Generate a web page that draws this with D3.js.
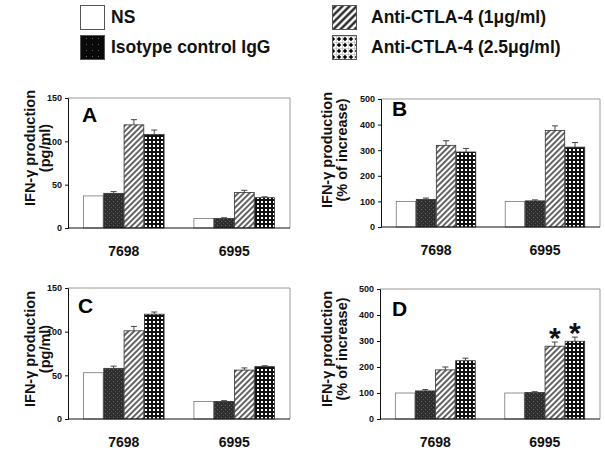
<!DOCTYPE html>
<html>
<head>
<meta charset="utf-8">
<script src="https://cdn.jsdelivr.net/npm/d3@7"></script>
<style>
  body { margin: 0; background: #fff; }
  svg { display: block; font-family: "Liberation Sans", Arial, sans-serif; font-weight: bold; }
</style>
</head>
<body>
<div class="visHolder"></div>
<script>
const w = 605, h = 450;

// data
const groups = ['7698', '6995'];
const series = ['NS', 'Isotype control IgG', 'Anti-CTLA-4 (1\u03bcg/ml)', 'Anti-CTLA-4 (2.5\u03bcg/ml)'];

const valuesA = [[37, 40, 119, 108], [11, 11, 41, 35]];
const errorsA = [[0, 2, 6, 5], [0, 0.8, 2.5, 1]];
const valuesB = [[100, 108, 319, 293], [100, 102, 377, 312]];
const errorsB = [[0, 5, 18, 14], [0, 4, 18, 18]];
const valuesC = [[53, 58, 101, 120], [20, 20, 56, 60]];
const errorsC = [[0, 2.5, 5, 2.5], [0, 1, 2.5, 1]];
const valuesD = [[100, 108, 189, 224], [100, 102, 280, 299]];
const errorsD = [[0, 5, 11, 10], [0, 3, 16, 16]];
const starsD = [[false, false, false, false], [false, false, true, true]];

const ticksPg = [0, 50, 100, 150];
const ticksPct = [0, 100, 200, 300, 400, 500];

const svg = d3.select('.visHolder')
  .append('svg')
  .attr('width', w)
  .attr('height', h);

// fill patterns
const defs = svg.append('defs');

let p = defs.append('pattern').attr('id', 'iso').attr('patternUnits', 'userSpaceOnUse')
  .attr('width', 4).attr('height', 4);
p.append('rect').attr('width', 4).attr('height', 4).attr('fill', '#2e2e2e');
p.append('rect').attr('x', 1).attr('y', 1).attr('width', 1).attr('height', 1).attr('fill', '#6a6a6a');
p.append('rect').attr('x', 3).attr('y', 3).attr('width', 1).attr('height', 1).attr('fill', '#555');

p = defs.append('pattern').attr('id', 'hatch').attr('patternUnits', 'userSpaceOnUse')
  .attr('width', 4).attr('height', 4).attr('patternTransform', 'rotate(45)');
p.append('rect').attr('width', 4).attr('height', 4).attr('fill', '#fff');
p.append('line').attr('x1', 1).attr('x2', 1).attr('y1', 0).attr('y2', 4)
  .attr('stroke', '#111').attr('stroke-width', 1.3);

p = defs.append('pattern').attr('id', 'check').attr('patternUnits', 'userSpaceOnUse')
  .attr('width', 4).attr('height', 4);
p.append('rect').attr('width', 4).attr('height', 4).attr('fill', '#111');
p.append('rect').attr('x', 1).attr('y', 1).attr('width', 2).attr('height', 2).attr('fill', '#fff');

// bigger versions for the legend swatches
p = defs.append('pattern').attr('id', 'isoL').attr('patternUnits', 'userSpaceOnUse')
  .attr('width', 6).attr('height', 6);
p.append('rect').attr('width', 6).attr('height', 6).attr('fill', '#0a0a0a');
p.append('rect').attr('x', 2).attr('y', 2).attr('width', 1).attr('height', 1).attr('fill', '#666');

p = defs.append('pattern').attr('id', 'hatchL').attr('patternUnits', 'userSpaceOnUse')
  .attr('width', 5).attr('height', 5).attr('patternTransform', 'rotate(45)');
p.append('rect').attr('width', 5).attr('height', 5).attr('fill', '#fff');
p.append('line').attr('x1', 1.5).attr('x2', 1.5).attr('y1', 0).attr('y2', 5)
  .attr('stroke', '#111').attr('stroke-width', 2.2);

p = defs.append('pattern').attr('id', 'checkL').attr('patternUnits', 'userSpaceOnUse')
  .attr('width', 6).attr('height', 6).attr('x', 0).attr('y', 0);
p.append('rect').attr('width', 6).attr('height', 6).attr('fill', '#fff');
p.append('path').attr('d', 'M0 0H6M0 0V6').attr('stroke', '#999').attr('stroke-width', 0.8);
p.append('path').attr('d', 'M3 0.8L5.2 3L3 5.2L0.8 3Z').attr('fill', '#000');

const fills = ['#fff', 'url(#iso)', 'url(#hatch)', 'url(#check)'];
const legendFills = ['#fff', 'url(#isoL)', 'url(#hatchL)', 'url(#checkL)'];

// legend
const legendPos = [
  {bx: 80, by: 5, tx: 111},
  {bx: 80, by: 35, tx: 111},
  {bx: 332, by: 5, tx: 371},
  {bx: 332, by: 35, tx: 371}
];
const legend = svg.append('g').attr('class', 'legend');
series.forEach((s, i) => {
  const lp = legendPos[i];
  legend.append('rect')
    .attr('x', lp.bx + 0.5).attr('y', lp.by + 0.5)
    .attr('width', 24).attr('height', 24)
    .attr('fill', legendFills[i])
    .attr('stroke', '#555').attr('stroke-width', 1);
  legend.append('text')
    .attr('x', lp.tx).attr('y', lp.by + 18)
    .attr('font-size', 17.5)
    .attr('fill', '#111')
    .text(s);
});

const panels = [
  {letter: 'A', lx: 82, ly: 122, x0: 68, x1: 290, top: 98, bottom: 228, max: 150, ticks: ticksPg,
   values: valuesA, errors: errorsA, label: ['IFN-\u03b3 production', '(pg/ml)'], yl: 35, ylc: 148},
  {letter: 'B', lx: 392, ly: 116, x0: 381, x1: 600, top: 99, bottom: 227, max: 500, ticks: ticksPct,
   values: valuesB, errors: errorsB, label: ['IFN-\u03b3 production', '(% of increase)'], yl: 332, ylc: 150},
  {letter: 'C', lx: 78, ly: 313, x0: 68, x1: 290, top: 288, bottom: 419, max: 150, ticks: ticksPg,
   values: valuesC, errors: errorsC, label: ['IFN-\u03b3 production', '(pg/ml)'], yl: 35, ylc: 349},
  {letter: 'D', lx: 392, ly: 316, x0: 380, x1: 600, top: 289, bottom: 419, max: 500, ticks: ticksPct,
   values: valuesD, errors: errorsD, label: ['IFN-\u03b3 production', '(% of increase)'], yl: 332, ylc: 349,
   stars: starsD}
];

panels.forEach(pn => {
  const g = svg.append('g').attr('class', 'panel-' + pn.letter);

  const xScale = d3.scaleBand()
    .domain(groups)
    .range([pn.x0, pn.x1])
    .paddingInner(0.27)
    .paddingOuter(0.14);

  const xInner = d3.scaleBand()
    .domain(d3.range(series.length))
    .range([0, xScale.bandwidth()])
    .paddingInner(0.03);

  const yScale = d3.scaleLinear()
    .domain([0, pn.max])
    .range([pn.bottom, pn.top]);

  // frame: top and right in light grey
  g.append('path')
    .attr('d', `M${pn.x0},${pn.top}H${pn.x1}V${pn.bottom}`)
    .attr('fill', 'none')
    .attr('stroke', '#9a9a9a')
    .attr('stroke-width', 1);

  // bars
  pn.values.forEach((vals, gi) => {
    const gx = xScale(groups[gi]);
    vals.forEach((v, si) => {
      const bx = gx + xInner(si);
      const bw = xInner.bandwidth();
      g.append('rect')
        .attr('x', bx)
        .attr('y', yScale(v))
        .attr('width', bw)
        .attr('height', yScale(0) - yScale(v))
        .attr('fill', fills[si])
        .attr('stroke', si === 0 ? '#777' : '#333')
        .attr('stroke-width', 0.8);

      const e = pn.errors[gi][si];
      if (e > 0) {
        const cx = bx + bw / 2;
        g.append('line')
          .attr('x1', cx).attr('x2', cx)
          .attr('y1', yScale(v)).attr('y2', yScale(v + e))
          .attr('stroke', '#444').attr('stroke-width', 1);
        g.append('line')
          .attr('x1', cx - 3).attr('x2', cx + 3)
          .attr('y1', yScale(v + e)).attr('y2', yScale(v + e))
          .attr('stroke', '#444').attr('stroke-width', 1);
      }
      if (pn.stars && pn.stars[gi][si]) {
        g.append('text')
          .attr('x', bx + bw / 2)
          .attr('y', yScale(v + e) + 6)
          .attr('text-anchor', 'middle')
          .attr('font-size', 30)
          .attr('fill', '#111')
          .text('*');
      }
    });
  });

  // axes
  const yAxis = d3.axisLeft(yScale).tickValues(pn.ticks).tickSize(3).tickPadding(3);
  g.append('g')
    .attr('transform', `translate(${pn.x0},0)`)
    .call(yAxis)
    .call(a => a.select('.domain').attr('stroke', '#111'))
    .call(a => a.selectAll('.tick line').attr('stroke', '#111'))
    .call(a => a.selectAll('.tick text')
      .attr('font-size', 9).attr('font-weight', 'bold')
      .attr('font-family', '"Liberation Sans", Arial, sans-serif').attr('fill', '#111'));

  const xAxis = d3.axisBottom(xScale).tickSize(0).tickPadding(18);
  g.append('g')
    .attr('transform', `translate(0,${pn.bottom})`)
    .call(xAxis)
    .call(a => a.select('.domain').attr('stroke', '#111').attr('d', `M${pn.x0},0H${pn.x1}`))
    .call(a => a.selectAll('.tick text')
      .attr('font-size', 14).attr('font-weight', 'bold')
      .attr('font-family', '"Liberation Sans", Arial, sans-serif').attr('fill', '#111'));

  // panel letter
  g.append('text')
    .attr('x', pn.lx).attr('y', pn.ly)
    .attr('font-size', 21)
    .attr('fill', '#000')
    .text(pn.letter);

  // y label
  const yl = g.append('text')
    .attr('transform', `translate(${pn.yl},${pn.ylc}) rotate(-90)`)
    .attr('text-anchor', 'middle')
    .attr('font-size', 14.5)
    .attr('fill', '#111');
  yl.append('tspan').attr('x', 0).attr('y', 0).text(pn.label[0]);
  yl.append('tspan').attr('x', 0).attr('y', 14.5).text(pn.label[1]);
});
</script>
</body>
</html>
